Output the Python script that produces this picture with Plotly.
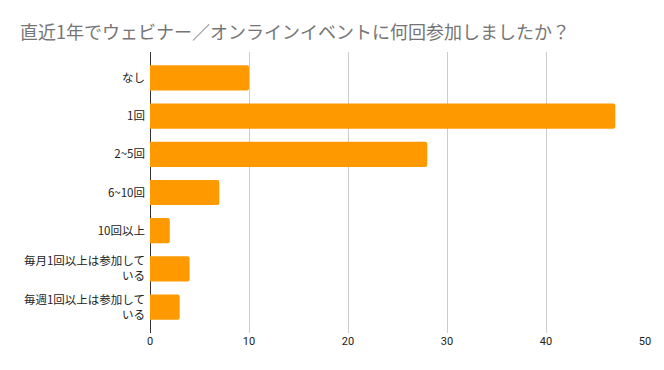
import plotly.graph_objects as go

categories = ["なし", "1回", "2~5回", "6~10回", "10回以上",
              "毎月1回以上は参加して<br>いる", "毎週1回以上は参加して<br>いる"]
values = [10, 47, 28, 7, 2, 4, 3]
x_ticks = [0, 10, 20, 30, 40, 50]
title_text = "直近1年でウェビナー／オンラインイベントに何回参加しましたか？"

font_family = "Roboto, 'Noto Sans CJK JP', sans-serif"

fig = go.Figure(go.Bar(
    y=list(range(len(categories))),
    x=values,
    orientation="h",
    marker=dict(color="#FF9900", line=dict(width=0), cornerradius=2),
    width=0.66,
    hoverinfo="x+y",
))

fig.update_layout(
    width=664, height=370,
    margin=dict(l=149.5, r=19, t=52, b=37, autoexpand=False),
    paper_bgcolor="white", plot_bgcolor="white",
    font=dict(family=font_family, size=11, color="#222222"),
    title=dict(text=title_text, x=20 / 664, xanchor="left", y=1 - 33 / 370, yanchor="middle",
               font=dict(family="'Noto Sans CJK JP', sans-serif", size=18, color="#757575"),
               automargin=False),
    showlegend=False,
    bargap=0.34,
)

fig.update_xaxes(
    range=[0, 50], tickvals=x_ticks, ticktext=[str(v) for v in x_ticks],
    showgrid=True, gridcolor="#cccccc", gridwidth=1,
    zeroline=True, zerolinecolor="#333333", zerolinewidth=1,
    showline=False, ticks="", tickfont=dict(size=11, color="#222222"),
    automargin=False, fixedrange=True,
)
fig.update_yaxes(
    range=[6.68, -0.68], tickvals=list(range(len(categories))), ticktext=categories,
    showgrid=False, zeroline=False, showline=False, ticks="",
    ticklabelstandoff=4,
    tickfont=dict(family="'Noto Sans CJK JP', sans-serif", size=11.5, color="#222222"),
    automargin=False, fixedrange=True,
)

fig.write_html("out.html", post_script="document.body.style.margin='0';",
               config={"displayModeBar": False})
